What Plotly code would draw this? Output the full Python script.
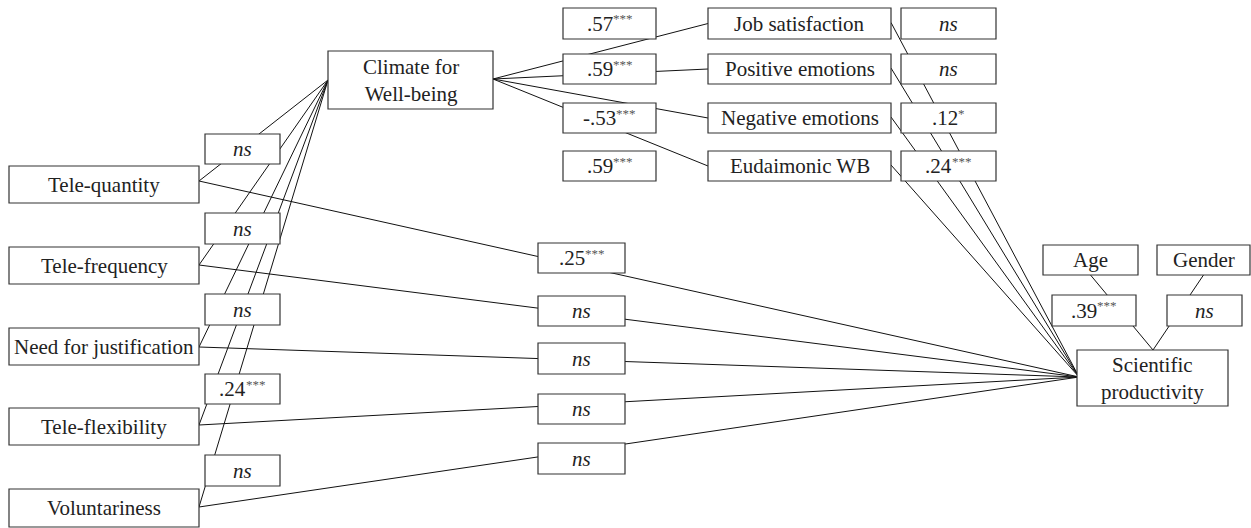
import plotly.graph_objects as go

# ---------------- data (labels & coefficients) ----------------
predictors = ["Tele-quantity", "Tele-frequency", "Need for justification",
              "Tele-flexibility", "Voluntariness"]
pred_to_climate = ["ns", "ns", "ns", ".24***", "ns"]
pred_to_prod = [".25***", "ns", "ns", "ns", "ns"]

mediator = "Climate for<br>Well-being"
wellbeing = ["Job satisfaction", "Positive emotions", "Negative emotions", "Eudaimonic WB"]
climate_to_wb = [".57***", ".59***", "-.53***", ".59***"]
wb_to_prod = ["ns", "ns", ".12*", ".24***"]

outcome = "Scientific<br>productivity"
controls = ["Age", "Gender"]
control_to_prod = [".39***", "ns"]

# ---------------- layout geometry (pixel space) ----------------
W, H = 1251, 528
pred_x = (9, 199)
pred_y = [(166, 203), (247, 284), (328, 365), (408, 445), (489, 527)]
pred_anchor_y = [181, 265, 347, 425, 507]
c1_x = (205, 280)
c1_y = [(134, 164), (213, 244), (294, 325), (374, 404), (455, 486)]
c2_x = (538, 625)
c2_y = [(243, 273), (296, 326), (343, 374), (394, 424), (443, 474)]

clim_box = (328, 493, 51, 109)
clim_left = (328, 80)
clim_right = (493, 79)

wb_x = (708, 891)
wb_y = [(8, 39), (54, 84), (103, 133), (151, 181)]
cw_x = (563, 656)
wp_x = (901, 996)

prod_box = (1077, 1228, 350, 406)
prod_left = (1079, 377)
prod_top = (1153, 350)
ctrl_x = [(1043, 1138), (1157, 1250)]
ctrl_y = (245, 275)
cc_x = [(1052, 1136), (1167, 1242)]
cc_y = (295, 326)

FONT = "Liberation Serif"
FS = 21
FS_STAR = 13
TXT = "#222222"
STAR_COL = "#555555"
# approximate advance widths (em) of Liberation Serif glyphs used in coefficients
ADV = {".": 0.25, "-": 0.333, "*": 0.5}


def text_w(s, size):
    return sum(ADV.get(ch, 0.5) for ch in s) * size


shapes_lines = []
shapes_boxes = []
annotations = []


def line(x0, y0, x1, y1):
    shapes_lines.append(dict(type="line", xref="x", yref="y", x0=x0, y0=y0, x1=x1, y1=y1,
                             line=dict(color="#111111", width=1), layer="above"))


def rect(x0, x1, y0, y1):
    shapes_boxes.append(dict(type="rect", xref="x", yref="y", x0=x0, x1=x1, y0=y0, y1=y1,
                             fillcolor="white", line=dict(color="#333333", width=1.2), layer="above"))


def label(x, y, text, size=FS, color=TXT, xanchor="center", yshift=0, xshift=0):
    annotations.append(dict(x=x, y=y, xref="x", yref="y", text=text, showarrow=False,
                            font=dict(family=FONT, size=size, color=color), borderpad=0,
                            xanchor=xanchor, yanchor="middle", align="center",
                            yshift=yshift, xshift=xshift))


def box(x0, x1, y0, y1, text):
    rect(x0, x1, y0, y1)
    label((x0 + x1) / 2, (y0 + y1) / 2, text)


def coef_box(x0, x1, y0, y1, c):
    rect(x0, x1, y0, y1)
    cx, cy = (x0 + x1) / 2, (y0 + y1) / 2
    if c == "ns":
        label(cx, cy, "<i>ns</i>")
        return
    base = c.replace("*", "")
    stars = "*" * c.count("*")
    if not stars:
        label(cx, cy, base)
        return
    wb = text_w(base, FS)
    ws = text_w(stars, FS_STAR)
    split = cx - (wb + ws) / 2 + wb
    label(split, cy, base, xanchor="right", xshift=1)
    label(split, cy, stars, size=FS_STAR, color=STAR_COL, xanchor="left", yshift=5, xshift=-1)


# predictor paths
for i, name in enumerate(predictors):
    ay = pred_anchor_y[i]
    line(pred_x[1], ay, clim_left[0], clim_left[1])
    line(pred_x[1], ay, prod_left[0], prod_left[1])
    box(pred_x[0], pred_x[1], pred_y[i][0], pred_y[i][1], name)
    coef_box(c1_x[0], c1_x[1], c1_y[i][0], c1_y[i][1], pred_to_climate[i])
    coef_box(c2_x[0], c2_x[1], c2_y[i][0], c2_y[i][1], pred_to_prod[i])

# climate
box(clim_box[0], clim_box[1], clim_box[2], clim_box[3], mediator)

# well-being paths
for i, name in enumerate(wellbeing):
    my = (wb_y[i][0] + wb_y[i][1]) / 2
    line(clim_right[0], clim_right[1], wb_x[0], my)
    line(wb_x[1], my - 1, prod_left[0], prod_left[1])
    box(wb_x[0], wb_x[1], wb_y[i][0], wb_y[i][1], name)
    coef_box(cw_x[0], cw_x[1], wb_y[i][0], wb_y[i][1], climate_to_wb[i])
    coef_box(wp_x[0], wp_x[1], wb_y[i][0], wb_y[i][1], wb_to_prod[i])

# controls
for i, name in enumerate(controls):
    mx = (ctrl_x[i][0] + ctrl_x[i][1]) / 2
    line(mx, ctrl_y[1], prod_top[0], prod_top[1])
    box(ctrl_x[i][0], ctrl_x[i][1], ctrl_y[0], ctrl_y[1], name)
    coef_box(cc_x[i][0], cc_x[i][1], cc_y[0], cc_y[1], control_to_prod[i])

# outcome
box(prod_box[0], prod_box[1], prod_box[2], prod_box[3], outcome)

fig = go.Figure()
fig.add_trace(go.Scatter(x=[0, W], y=[0, H], mode="markers", marker=dict(opacity=0),
                         hoverinfo="skip", showlegend=False))
fig.update_layout(
    width=W, height=H, margin=dict(l=0, r=0, t=0, b=0),
    paper_bgcolor="white", plot_bgcolor="white",
    xaxis=dict(range=[0, W], visible=False, fixedrange=True),
    yaxis=dict(range=[H, 0], visible=False, fixedrange=True),
    shapes=shapes_lines + shapes_boxes,
    annotations=annotations,
    showlegend=False,
)
fig.write_html("out.html", config={"displayModeBar": False},
               post_script="document.body.style.margin='0';document.body.style.overflow='hidden';")
